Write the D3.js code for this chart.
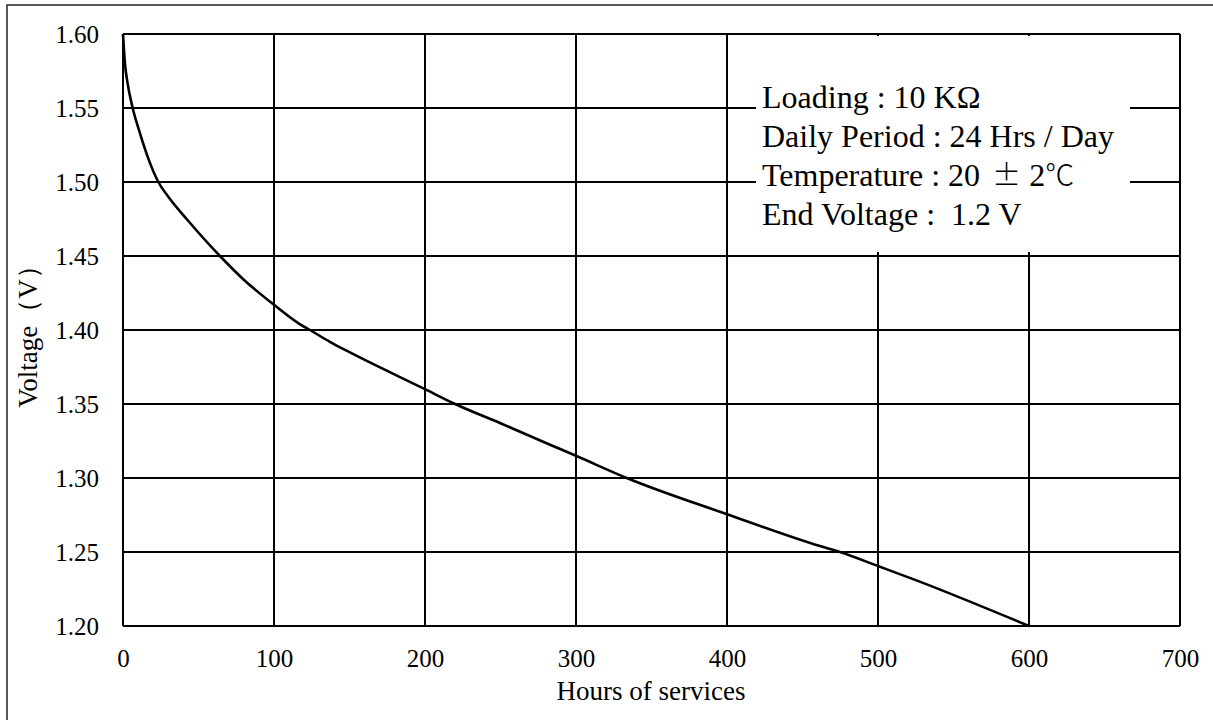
<!DOCTYPE html>
<html><head><meta charset="utf-8">
<script src="https://cdn.jsdelivr.net/npm/d3@7"></script>
<style>
body{margin:0;background:#fff;}
text{font-family:"Liberation Serif","Times New Roman",serif;fill:#000;}
</style></head>
<body>
<svg id="c" width="1213" height="720"></svg>
<script>
const hours = [0, 1.3, 3, 6.4, 10.6, 16, 23.4, 30, 43, 64.2, 80, 100, 117, 123.8, 137, 150, 200, 219.9, 250, 282.8, 300, 333.6, 400, 461.6, 474.8, 500, 525, 600];
const volts = [1.60, 1.58, 1.567, 1.55, 1.535, 1.518, 1.50, 1.490, 1.474, 1.45, 1.434, 1.417, 1.404, 1.40, 1.392, 1.385, 1.360, 1.35, 1.337, 1.3225, 1.315, 1.30, 1.2755, 1.254, 1.25, 1.2405, 1.231, 1.20];
const xTicks = [0, 100, 200, 300, 400, 500, 600, 700];
const yTicks = [1.20, 1.25, 1.30, 1.35, 1.40, 1.45, 1.50, 1.55, 1.60];
const legendLines = ["Loading : 10 KΩ", "Daily Period : 24 Hrs / Day", "Temperature : 20 ± 2℃", "End Voltage :  1.2 V"];
const xTitle = "Hours of services";
const yTitle = "Voltage（V）";

const svg = d3.select("#c");
const L = 123, R = 1180, T = 34, B = 626;
const x = d3.scaleLinear().domain([0, 700]).range([L, R]);
const y = d3.scaleLinear().domain([1.20, 1.60]).range([B, T]);

// outer border
svg.append("rect").attr("x", 7).attr("y", 5).attr("width", 1230).attr("height", 740)
  .attr("fill", "none").attr("stroke", "#222").attr("stroke-width", 1.5);

// grid
const g = svg.append("g");
g.selectAll("line.v").data(xTicks).enter().append("line")
  .attr("x1", d => x(d)).attr("x2", d => x(d)).attr("y1", T).attr("y2", B)
  .attr("stroke", "#000").attr("stroke-width", 2);
g.selectAll("line.h").data(yTicks).enter().append("line")
  .attr("x1", L).attr("x2", R).attr("y1", d => y(d)).attr("y2", d => y(d))
  .attr("stroke", "#000").attr("stroke-width", 2);

// axes labels via d3 axes (no tick lines/domain)
const xa = svg.append("g").attr("transform", `translate(0,${B})`)
  .call(d3.axisBottom(x).tickValues(xTicks).tickFormat(d3.format("d")).tickSize(0).tickPadding(0));
xa.select(".domain").remove();
xa.selectAll("text").attr("font-size", 25).attr("font-family", "Liberation Serif").attr("dy", null).attr("y", 41);
const ya = svg.append("g").attr("transform", `translate(${L},0)`)
  .call(d3.axisLeft(y).tickValues(yTicks).tickFormat(d3.format(".2f")).tickSize(0).tickPadding(0));
ya.select(".domain").remove();
ya.selectAll("text").attr("font-size", 25).attr("font-family", "Liberation Serif").attr("x", -24).attr("dy", "0.34em");

// legend box
svg.append("rect").attr("x", 756).attr("y", 36).attr("width", 374).attr("height", 216).attr("fill", "#fff");
const lg = svg.append("g").selectAll("text").data(legendLines).enter().append("text")
  .attr("x", 762).attr("y", (d, i) => 108 + i * 39).attr("font-size", 32)
  .style("white-space", "pre");
lg.each(function(d) {
  const t = d3.select(this);
  d.split(/([±℃])/).filter(s => s.length).forEach(s => {
    const sp = t.append("tspan").text(s);
    if (s === "±") sp.attr("font-family", "Noto Sans CJK JP").attr("font-weight", 300).attr("font-size", 29).attr("dx", 4);
    if (s === "℃") sp.attr("font-family", "Noto Sans CJK JP").attr("font-weight", 200).attr("font-size", 29);
  });
});

// curve
const pts = hours.map((h, i) => [h, volts[i]]);
svg.append("path").datum(pts)
  .attr("d", d3.line().x(d => x(d[0])).y(d => y(d[1])).curve(d3.curveMonotoneX))
  .attr("fill", "none").attr("stroke", "#000").attr("stroke-width", 2.6);

// titles
svg.append("text").attr("x", 651).attr("y", 700).attr("text-anchor", "middle")
  .attr("font-size", 27).text(xTitle);
svg.append("text").attr("transform", "translate(37,330) rotate(-90)").attr("text-anchor", "middle")
  .attr("font-size", 27).text(yTitle);
</script>
</body></html>
